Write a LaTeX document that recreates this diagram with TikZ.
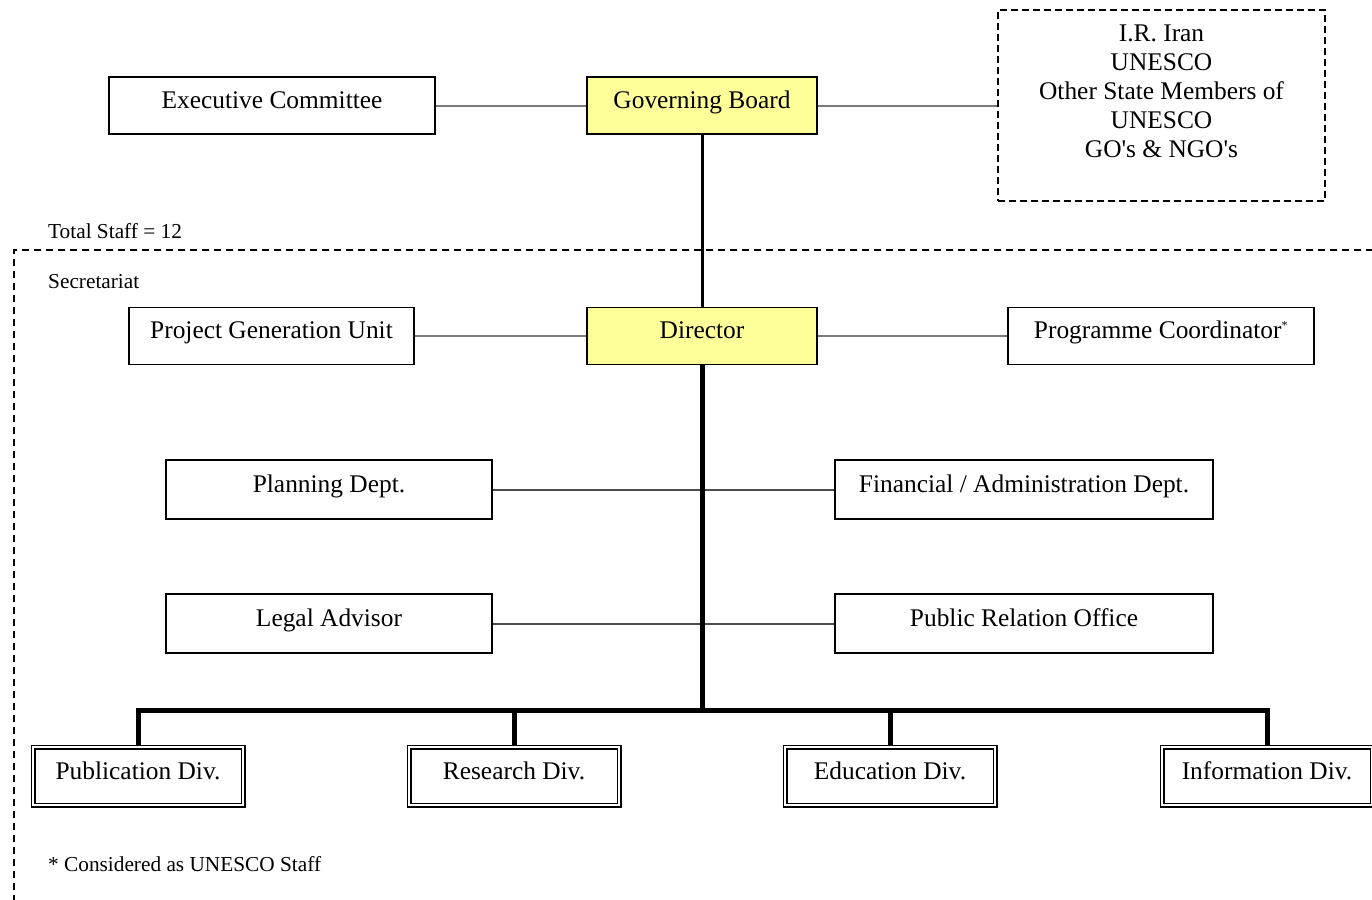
\documentclass[tikz,border=0pt]{standalone}
\usepackage{fontspec}
\setmainfont{Liberation Serif}
\newcommand\bigfs{\fontsize{25.4}{29}\selectfont}
\newcommand\smallfs{\fontsize{21.3}{24}\selectfont}
\definecolor{boxyellow}{HTML}{FFFF99}
\definecolor{conngray}{HTML}{7A7A7A}
\begin{document}
\begin{tikzpicture}[x=1pt,y=-1pt,
  box/.style={draw, line width=1.3pt, inner sep=0pt, minimum height=57pt,
    text height=0.75em, text depth=0.2em, font=\bigfs},
  yellowbox/.style={box, fill=boxyellow},
  divbox/.style={draw, line width=1.2pt, double, double distance=2.6pt, inner sep=0pt,
    minimum width=210pt, minimum height=58pt, text height=0.75em, text depth=0.0em, font=\bigfs},
  dashbox/.style={draw, dashed, dash pattern=on 7pt off 4pt, line width=1.4pt, inner sep=0pt},
  thin/.style={draw=conngray, line width=2pt},
  midline/.style={draw=black!70, line width=2pt},
  thick3/.style={draw, line width=3pt},
  thick5/.style={draw, line width=5pt},
  small/.style={font=\smallfs, inner sep=0pt, anchor=base west}
]
\useasboundingbox (0,0) rectangle (1372,899);

% top row
\node[box, minimum width=326pt] (exec) at (272,105.5) {Executive Committee};
\node[yellowbox, minimum width=230pt] (gb) at (702,105.5) {Governing Board};
\node[dashbox, minimum width=327pt, minimum height=191pt] (iran) at (1161.5,105.5) {};
\node[font=\bigfs, align=center, anchor=north, inner sep=0pt] (irantext) at (1161.5,25)
  {I.R. Iran\\UNESCO\\Other State Members of\\UNESCO\\GO\textquotesingle s \& NGO\textquotesingle s};

% labels
\node[small] (total) at (48,238) {Total Staff = 12};
\coordinate (secTR) at (1385,250);
\coordinate (secTL) at (14,250);
\coordinate (secBL) at (14,905);
\draw[dashed, dash pattern=on 7pt off 5pt, line width=1.3pt] (secTR) -- (secTL) -- (secBL);
\node[small] (secr) at (48,288) {Secretariat};

% second row
\node[box, minimum width=285pt] (pgu) at (271.5,336) {Project Generation Unit};
\node[yellowbox, minimum width=230pt] (dir) at (702,336) {Director};
\node[box, minimum width=306pt] (pc) at (1161,336) {Programme Coordinator\textsuperscript{\fontsize{12}{12}\selectfont *}};

% departments
\node[box, minimum width=326pt, minimum height=59pt] (plan) at (329,489.5) {Planning Dept.};
\node[box, minimum width=378pt, minimum height=59pt] (fin) at (1024,489.5) {Financial / Administration Dept.};
\node[box, minimum width=326pt, minimum height=59pt] (legal) at (329,623.5) {Legal Advisor};
\node[box, minimum width=378pt, minimum height=59pt] (pr) at (1024,623.5) {Public Relation Office};

% divisions
\node[divbox] (pub) at (138,776) {Publication Div.};
\node[divbox] (res) at (514,776) {Research Div.};
\node[divbox] (edu) at (890,776) {Education Div.};
\node[divbox] (inf) at (1267,776) {Information Div.};

\node[small] (foot) at (48,871) {* Considered as UNESCO Staff};

% connectors
\draw[thin] (exec.east) -- (gb.west);
\draw[thin] (gb.east) -- (iran.west);
\draw[thin] (pgu.east) -- (dir.west);
\draw[thin] (dir.east) -- (pc.west);
\draw[midline] (plan.east) -- (fin.west);
\draw[midline] (legal.east) -- (pr.west);
\draw[thick3] (gb.south) -- (dir.north);
\coordinate (busc) at (702,710);
\coordinate (busl) at (138,710);
\coordinate (busr) at (1267,710);
\coordinate (busres) at (514,710);
\coordinate (busedu) at (890,710);
\draw[thick5] (dir.south) -- (busc);
\draw[thick5, line join=miter] (pub.north) -- (busl) -- (busr) -- (inf.north);
\draw[thick5] (busres) -- (res.north);
\draw[thick5] (busedu) -- (edu.north);
\end{tikzpicture}
\end{document}
